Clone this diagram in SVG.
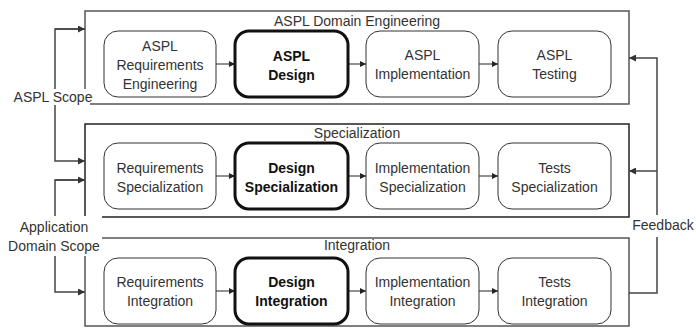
<svg xmlns="http://www.w3.org/2000/svg" width="696" height="328" viewBox="0 0 696 328">
<defs>
<marker id="ah" viewBox="0 0 10 10" refX="10" refY="5" markerWidth="7" markerHeight="7" markerUnits="userSpaceOnUse" orient="auto">
<path d="M0,0 L10,5 L0,10 z" fill="#333"/>
</marker>
<marker id="ahs" viewBox="0 0 10 10" refX="10" refY="5" markerWidth="6" markerHeight="6" markerUnits="userSpaceOnUse" orient="auto">
<path d="M0,0 L10,5 L0,10 z" fill="#222"/>
</marker>
</defs>
<style>
text{font-family:"Liberation Sans",Arial,sans-serif;font-size:14px;fill:#333;text-anchor:middle}
.b{font-weight:bold;fill:#111}
.phase{fill:#fff;stroke:#555;stroke-width:1.5}
.node{fill:#fff;stroke:#333;stroke-width:1}
.bold{fill:#fff;stroke:#111;stroke-width:3}
.c{fill:none;stroke:#444;stroke-width:1.5}
.e{fill:none;stroke:#222;stroke-width:1;marker-end:url(#ahs)}
.bg{fill:#fff}
</style>
<g id="phases">
<g id="phase-domain"><rect class="phase" x="85" y="11" width="544" height="93"/><text x="357" y="26">ASPL Domain Engineering</text></g>
<g id="phase-specialization"><rect class="phase" x="85" y="124" width="544" height="93" style="stroke:#222"/><text x="357" y="138">Specialization</text></g>
<g id="phase-integration"><rect class="phase" x="85" y="238" width="544" height="88"/><text x="357" y="250">Integration</text></g>
</g>
<g id="connectors">
<path class="e" d="M216,64 H235"/>
<path class="e" d="M348,64 H366"/>
<path class="e" d="M479,64 H498"/>
<path class="e" d="M216,176 H235"/>
<path class="e" d="M348,176 H366"/>
<path class="e" d="M479,176 H498"/>
<path class="e" d="M216,291 H235"/>
<path class="e" d="M348,291 H366"/>
<path class="e" d="M479,291 H498"/>
<path class="c" d="M85,29 H55 V161 H85" marker-end="url(#ah)"/>
<path class="c" d="M55,29 H85" marker-end="url(#ah)"/>
<path class="c" d="M85,180 H55 V292 H85" marker-end="url(#ah)"/>
<path class="c" d="M55,180 H85" marker-end="url(#ah)"/>
<path class="c" d="M629,293 H657 V58 H629" marker-end="url(#ah)"/>
<path class="c" d="M657,171 H629" marker-end="url(#ah)"/>
</g>
<g id="labels">
<g id="label-aspl-scope"><rect class="bg" x="15" y="89" width="75" height="16"/><text x="53" y="102">ASPL Scope</text></g>
<g id="label-app-scope"><rect class="bg" x="6" y="216" width="96" height="40"/><text x="54" y="232">Application</text><text x="54" y="251">Domain Scope</text></g>
<g id="label-feedback"><rect class="bg" x="632" y="215" width="64" height="22"/><text x="663" y="230">Feedback</text></g>
</g>
<g id="n-aspl-req"><rect class="node" x="104" y="31" width="112" height="66" rx="14"/><text x="160" y="51">ASPL</text><text x="160" y="70">Requirements</text><text x="160" y="89">Engineering</text></g>
<g id="n-aspl-design"><rect class="bold" x="235" y="31" width="113" height="66" rx="14"/><text class="b" x="291.5" y="61">ASPL</text><text class="b" x="291.5" y="80">Design</text></g>
<g id="n-aspl-impl"><rect class="node" x="366" y="31" width="113" height="66" rx="14"/><text x="422.5" y="60">ASPL</text><text x="422.5" y="79">Implementation</text></g>
<g id="n-aspl-test"><rect class="node" x="498" y="31" width="113" height="66" rx="14"/><text x="554.5" y="60">ASPL</text><text x="554.5" y="79">Testing</text></g>
<g id="n-req-spec"><rect class="node" x="104" y="143" width="112" height="66" rx="14"/><text x="160" y="173">Requirements</text><text x="160" y="192">Specialization</text></g>
<g id="n-design-spec"><rect class="bold" x="235" y="143" width="113" height="66" rx="14"/><text class="b" x="291.5" y="173">Design</text><text class="b" x="291.5" y="192">Specialization</text></g>
<g id="n-impl-spec"><rect class="node" x="366" y="143" width="113" height="66" rx="14"/><text x="422.5" y="173">Implementation</text><text x="422.5" y="192">Specialization</text></g>
<g id="n-tests-spec"><rect class="node" x="498" y="143" width="113" height="66" rx="14"/><text x="554.5" y="173">Tests</text><text x="554.5" y="192">Specialization</text></g>
<g id="n-req-int"><rect class="node" x="104" y="258" width="112" height="66" rx="14"/><text x="160" y="287">Requirements</text><text x="160" y="306">Integration</text></g>
<g id="n-design-int"><rect class="bold" x="235" y="258" width="113" height="66" rx="14"/><text class="b" x="291.5" y="287">Design</text><text class="b" x="291.5" y="306">Integration</text></g>
<g id="n-impl-int"><rect class="node" x="366" y="258" width="113" height="66" rx="14"/><text x="422.5" y="287">Implementation</text><text x="422.5" y="306">Integration</text></g>
<g id="n-tests-int"><rect class="node" x="498" y="258" width="113" height="66" rx="14"/><text x="554.5" y="287">Tests</text><text x="554.5" y="306">Integration</text></g>
</svg>
